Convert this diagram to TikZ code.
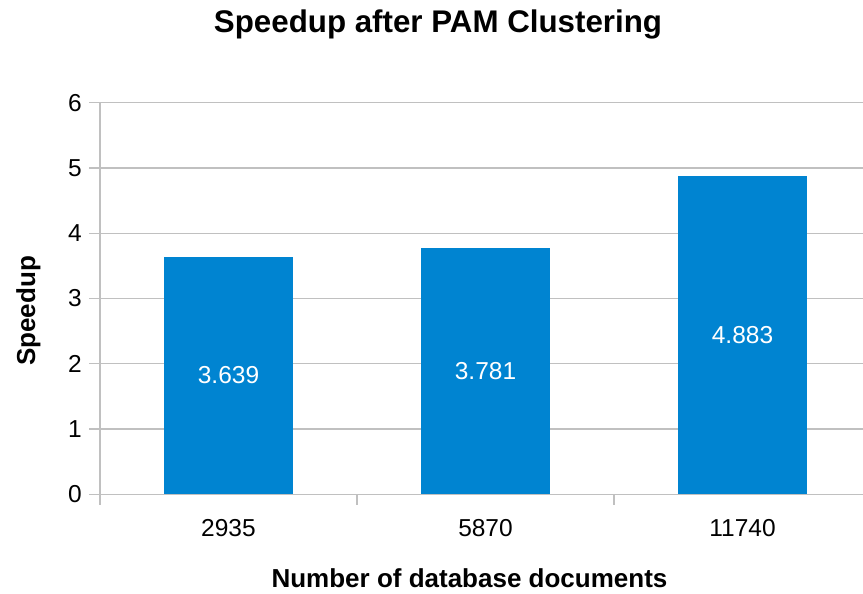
\documentclass[tikz,border=0pt]{standalone}
\usepackage{fontspec}
\setmainfont{Liberation Sans}

\definecolor{barblue}{RGB}{0,132,209}
\definecolor{gridgray}{RGB}{192,192,192}

\tikzset{
    gridline/.style={draw=gridgray, line width=1.3pt},
    bar/.style={fill=barblue, draw=none},
    ticklabel/.style={font=\fontsize{24.5}{28}\selectfont, inner sep=0pt},
    axistitle/.style={font=\fontsize{26}{30}\selectfont\bfseries, inner sep=0pt},
}

\begin{document}
\begin{tikzpicture}[x=1pt,y=1pt]
    \useasboundingbox (0,0) rectangle (863,594);
    \pgfmathsetmacro{\yzero}{99.7}
    \pgfmathsetmacro{\yunit}{65.27}
    % horizontal grid and speedup values
    \foreach \v in {0,...,6}{
            \draw [gridline] (89,\yzero+\v*\yunit) -- (863,\yzero+\v*\yunit);
            \node [ticklabel, anchor=east] (ytick\v) at (82,\yzero+\v*\yunit) {\v};
        }
    % one bar per category
    \foreach \val/\docs [
        count=\n,
        evaluate=\n as \xs using 100+257*(\n-1),
    ] in {3.639/2935,3.781/5870,4.883/11740}{
            \fill [bar] (\xs+64,\yzero) rectangle (\xs+193,\yzero+\val*\yunit);
            \node [ticklabel, text=white] (val\n) at (\xs+128.5,\yzero+\val*\yunit/2) {\val};
            \node [ticklabel] (xtick\n) at (\xs+128.5,66) {\docs};
            \draw [gridline] (\xs,\yzero) -- (\xs,89);
        }
    % axes
    \draw [gridline] (100,\yzero) -- (863,\yzero);
    \draw [gridline] (100,89) -- (100,\yzero+6*\yunit);
    % titles
    \node [font=\fontsize{31.3}{36}\selectfont\bfseries, inner sep=0pt, anchor=base] (title) at (438,561) {Speedup after PAM Clustering};
    \node [axistitle, anchor=base] (xtitle) at (469.5,6) {Number of database documents};
    \node [axistitle, anchor=base, rotate=90] (ytitle) at (35,283) {Speedup};
\end{tikzpicture}
\end{document}
